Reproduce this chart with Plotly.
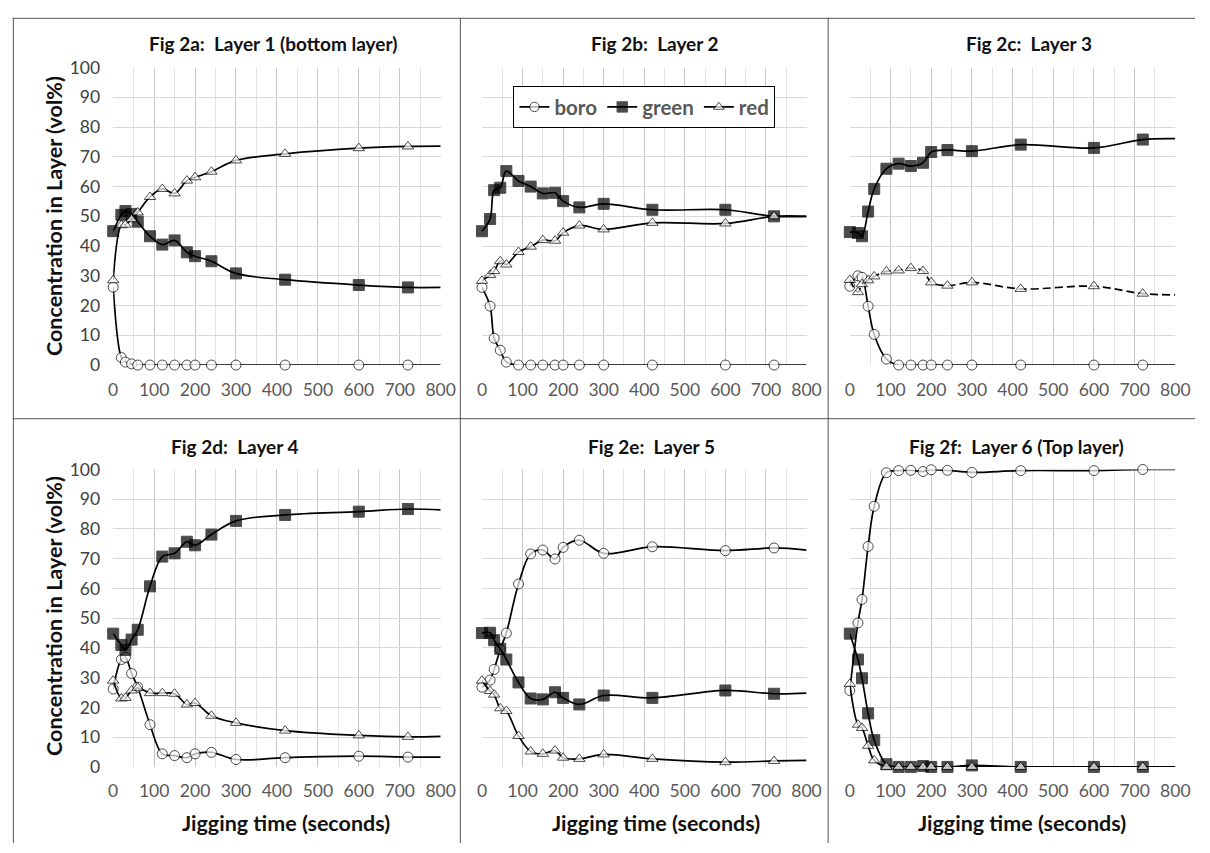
import plotly.graph_objects as go

W, H = 1210, 853

# ---------------- data ----------------
TIME = [0, 20, 30, 45, 60, 90, 120, 150, 180, 200, 240, 300, 420, 600, 720, 800]
X_TICKS = [0, 100, 200, 300, 400, 500, 600, 700, 800]
Y_TICKS = [0, 10, 20, 30, 40, 50, 60, 70, 80, 90, 100]
SERIES_NAMES = ["boro", "green", "red"]

TITLES = ["Fig 2a:\u00a0 Layer 1 (bottom layer)", "Fig 2b:\u00a0 Layer 2", "Fig 2c:\u00a0 Layer 3",
          "Fig 2d:\u00a0 Layer 4", "Fig 2e:\u00a0 Layer 5", "Fig 2f:\u00a0 Layer 6 (Top layer)"]
X_TITLE = "Jigging time (seconds)"
Y_TITLE = "Concentration in Layer (vol%)"

L1_BORO = [26.2, 2.5, 1.0, 0.4, 0, 0, 0, 0, 0, 0, 0, 0, 0, 0, 0, 0]
L1_GREEN = [45, 50.5, 51.8, 50.8, 48.2, 43.3, 40.5, 41.9, 37.9, 36.6, 34.9, 30.8, 28.7, 26.9, 26.1, 26.1]
L1_RED = [28.5, 47, 47.2, 49, 51.3, 56.5, 59.2, 57.7, 62, 63.1, 65, 68.8, 71, 72.9, 73.5, 73.6]

L2_BORO = [26.1, 19.8, 9, 5, 1, 0, 0, 0, 0, 0, 0, 0, 0, 0, 0, 0]
L2_GREEN = [45, 49.1, 58.8, 59.6, 65.2, 61.9, 60, 57.7, 57.9, 55.1, 53, 54.2, 52.2, 52.2, 50, 50]
L2_RED = [28.3, 30.3, 31.6, 34.9, 33.8, 38, 39.8, 42, 41.8, 44.5, 46.9, 45.6, 47.8, 47.6, 50, 50]

L3_BORO = [26.5, 30, 29.5, 19.8, 10.3, 2, 0, 0, 0, 0, 0, 0, 0, 0, 0, 0]
L3_GREEN = [44.7, 44.4, 43.3, 51.6, 59.2, 66, 67.7, 66.9, 68, 71.6, 72.3, 71.9, 74.1, 73, 75.8, 76.1]
L3_RED = [28.6, 24.5, 27.2, 28.5, 29.8, 31.5, 31.8, 32.6, 31.6, 27.8, 26.7, 27.8, 25.6, 26.5, 24, 23.6]

L4_BORO = [26.2, 36.1, 36.8, 31.4, 26.8, 14.2, 4.4, 3.8, 3.1, 4.4, 4.9, 2.5, 3.1, 3.6, 3.3, 3.3]
L4_GREEN = [44.8, 41, 39.3, 42.8, 46.1, 60.7, 70.7, 71.8, 75.7, 74.5, 78.1, 82.7, 84.7, 85.8, 86.7, 86.4]
L4_RED = [29, 23, 23.2, 25.7, 26.6, 24.8, 24.8, 24.6, 21, 21.5, 17.2, 14.8, 12.2, 10.6, 10.1, 10.3]

L5_BORO = [26.8, 29.2, 32.8, 39.5, 45, 61.5, 71.6, 72.9, 69.9, 73.8, 76.2, 71.8, 74, 72.7, 73.6, 72.9]
L5_GREEN = [45, 45.1, 42.6, 39.7, 36.1, 28.4, 23, 22.7, 25.1, 23.2, 21, 24, 23.2, 25.7, 24.6, 24.8]
L5_RED = [29, 25.5, 24.3, 19.7, 18.8, 10.4, 5.2, 4.4, 5.5, 3.1, 2.7, 4.2, 2.7, 1.6, 2, 2.2]

L6_BORO = [25.7, 48.4, 56.3, 74.1, 87.6, 98.9, 99.6, 99.7, 99.3, 99.9, 99.7, 99, 99.6, 99.6, 100, 100]
L6_GREEN = [44.8, 36.1, 29.8, 18, 9, 0.9, 0, 0, 0.3, 0, 0, 0.5, 0, 0, 0, 0]
L6_RED = [27.9, 14.2, 13.1, 7.1, 2.2, 0, 0, 0, 0, 0, 0, 0, 0, 0, 0, 0]

LAYERS = [
    (L1_BORO, L1_GREEN, L1_RED),
    (L2_BORO, L2_GREEN, L2_RED),
    (L3_BORO, L3_GREEN, L3_RED),
    (L4_BORO, L4_GREEN, L4_RED),
    (L5_BORO, L5_GREEN, L5_RED),
    (L6_BORO, L6_GREEN, L6_RED),
]

# ---------------- layout geometry (pixels) ----------------
FONT = "Lato, 'Open Sans', sans-serif"
COL_X = [(110, 443), (485, 815), (859, 1190)]
ROW_Y = [(58, 363), (470, 775)]
TITLE_POS = [(272, 33), (661, 33), (1041, 33), (234, 447), (657, 447), (1029, 447)]
XTITLE_POS = [(286, 832), (662, 832), (1034, 832)]
YTITLE_POS = [(50, 210), (50, 620)]


def px(x):
    return x / W


def py(y):
    return 1 - y / H


STYLE = {
    "boro": dict(symbol="circle", size=10, color="white"),
    "green": dict(symbol="square", size=11, color="black"),
    "red": dict(symbol="triangle-up", size=10, color="white"),
}

fig = go.Figure()
layout_axes = {}
for i, layer in enumerate(LAYERS):
    r, c = divmod(i, 3)
    n = i + 1
    xa = "x" if n == 1 else f"x{n}"
    ya = "y" if n == 1 else f"y{n}"
    for name, vals in zip(SERIES_NAMES, layer):
        st = STYLE[name]
        sizes = [st["size"]] * (len(TIME) - 1) + [0]
        dash = "8px,4px" if (name == "red" and n == 3) else "solid"
        fig.add_trace(go.Scatter(
            x=TIME, y=vals, xaxis=xa, yaxis=ya, name=name,
            mode="lines+markers",
            line=dict(color="black", width=1.7, shape="spline", smoothing=1.0, dash=dash),
            marker=dict(symbol=st["symbol"], size=sizes, color=st["color"],
                        line=dict(color="black", width=1)),
            cliponaxis=False,
            showlegend=(n == 2),
            legendrank={"boro": 1, "green": 2, "red": 3}[name],
        ))
    x0, x1 = COL_X[c]
    y0, y1 = ROW_Y[r]
    layout_axes["xaxis" if n == 1 else f"xaxis{n}"] = dict(
        domain=[px(x0), px(x1)], anchor=ya, range=[0, 800],
        tickmode="array", tickvals=X_TICKS, ticktext=[str(v) for v in X_TICKS],
        showgrid=True, gridcolor="#c6c6c6", gridwidth=1,
        minor=dict(dtick=50, tick0=0, showgrid=True, gridcolor="#e4e4e4", gridwidth=1),
        zeroline=False, showline=False, ticks="",
        tickfont=dict(family=FONT, size=17.5, color="#595959"),
        ticklabelstandoff=12, fixedrange=True,
    )
    layout_axes["yaxis" if n == 1 else f"yaxis{n}"] = dict(
        domain=[py(y1), py(y0)], anchor=xa, range=[0, 100],
        tickmode="array", tickvals=Y_TICKS, ticktext=[str(v) for v in Y_TICKS],
        showgrid=True, gridcolor="#d9d9d9", gridwidth=1,
        zeroline=False, showline=False, ticks="",
        showticklabels=(c == 0),
        tickfont=dict(family=FONT, size=17.5, color="#404040"),
        ticklabelstandoff=12, fixedrange=True,
    )

annotations = []
for (tx, ty), t in zip(TITLE_POS, TITLES):
    annotations.append(dict(x=px(tx), y=py(ty), xref="paper", yref="paper", text=t,
                            showarrow=False, xanchor="center", yanchor="middle",
                            font=dict(family=FONT, size=19, color="#111111", weight="bold")))
for (tx, ty) in XTITLE_POS:
    annotations.append(dict(x=px(tx), y=py(ty), xref="paper", yref="paper", text=X_TITLE,
                            showarrow=False, xanchor="center", yanchor="middle",
                            font=dict(family=FONT, size=21.5, color="#111111", weight="bold")))
for (tx, ty) in YTITLE_POS:
    annotations.append(dict(x=px(tx), y=py(ty), xref="paper", yref="paper", text=Y_TITLE,
                            showarrow=False, xanchor="center", yanchor="middle", textangle=-90,
                            font=dict(family=FONT, size=21.5, color="#111111", weight="bold")))

BORDER = "#555555"
shapes = [
    dict(type="line", xref="paper", yref="paper", x0=px(8.5), x1=px(8.5), y0=py(7), y1=py(H), line=dict(color=BORDER, width=1)),
    dict(type="line", xref="paper", yref="paper", x0=px(8), x1=1, y0=py(7.5), y1=py(7.5), line=dict(color=BORDER, width=1)),
    dict(type="line", xref="paper", yref="paper", x0=px(463), x1=px(463), y0=py(7), y1=py(H), line=dict(color=BORDER, width=1)),
    dict(type="line", xref="paper", yref="paper", x0=px(837), x1=px(837), y0=py(7), y1=py(H), line=dict(color=BORDER, width=1)),
    dict(type="line", xref="paper", yref="paper", x0=px(8), x1=1, y0=py(418), y1=py(418), line=dict(color=BORDER, width=1)),
]

fig.update_layout(
    width=W, height=H, margin=dict(l=0, r=0, t=0, b=0),
    paper_bgcolor="white", plot_bgcolor="white",
    showlegend=True,
    legend=dict(orientation="h", x=px(517), y=py(77), xanchor="left", yanchor="top",
                bgcolor="white", bordercolor="black", borderwidth=1,
                font=dict(family=FONT, size=20.5, color="#595959", weight="bold"),
                itemwidth=30, tracegroupgap=0),
    annotations=annotations, shapes=shapes,
    **layout_axes,
)

fig.write_html("out.html", config={"displayModeBar": False},
               post_script="document.body.style.margin='0';")
